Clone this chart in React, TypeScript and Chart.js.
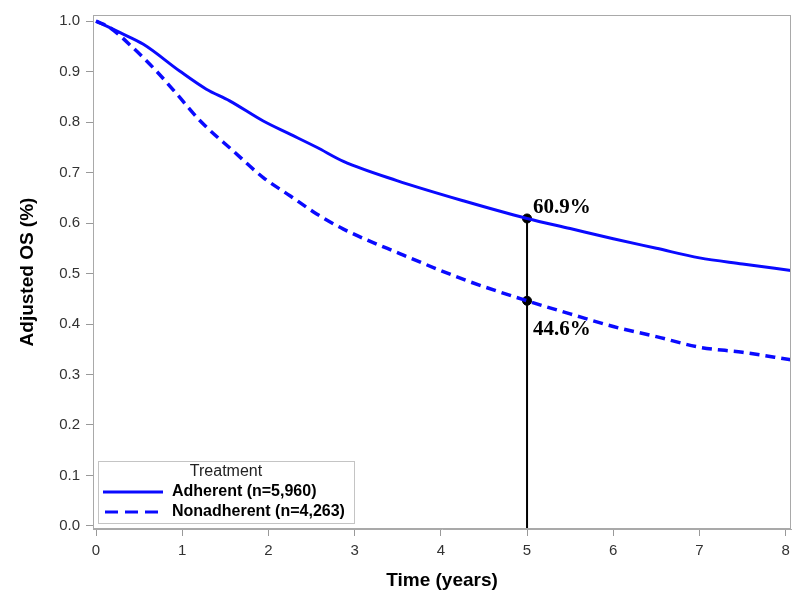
import React, { useEffect, useRef } from "react";
import { Chart, registerables } from "chart.js";

Chart.register(...registerables);

// ---- Data ----
const adherentTime = [0, 0.28, 0.55, 0.97, 1.28, 1.55, 1.94, 2.25, 2.56, 2.87, 3.49, 4.26, 5.0, 5.5, 6.0, 6.5, 7.0, 7.5, 8.06];
const adherentOS = [1.0, 0.977, 0.954, 0.901, 0.865, 0.842, 0.802, 0.776, 0.75, 0.722, 0.684, 0.644, 0.609, 0.589, 0.569, 0.55, 0.531, 0.519, 0.506];

const nonadherentTime = [0, 0.16, 0.43, 0.7, 0.94, 1.21, 1.59, 1.94, 2.25, 2.56, 2.87, 3.53, 4.3, 5.0, 5.5, 6.0, 6.5, 7.0, 7.5, 8.06];
const nonadherentOS = [1.0, 0.987, 0.947, 0.901, 0.855, 0.802, 0.743, 0.69, 0.654, 0.618, 0.588, 0.539, 0.486, 0.446, 0.42, 0.395, 0.375, 0.354, 0.344, 0.329];

const markerTime = [5, 5];
const markerOS = [0.609, 0.446];
const markerLabels = ["60.9%", "44.6%"];

const xTicks = [0, 1, 2, 3, 4, 5, 6, 7, 8];
const yTicks = [0, 0.1, 0.2, 0.3, 0.4, 0.5, 0.6, 0.7, 0.8, 0.9, 1.0];

const seriesNames = ["Adherent (n=5,960)", "Nonadherent (n=4,263)"];
const legendTitle = "Treatment";

const X_MIN = -0.035;
const X_MAX = 8.062;
const Y_MIN = -0.006;
const Y_MAX = 1.012;

const BLUE = "#0a0aff";
const SANS = "Arial, 'Liberation Sans', sans-serif";
const SERIF = "'Times New Roman', 'Liberation Serif', serif";

const overlayPlugin = {
  id: "overlay",
  afterDraw(chart: any) {
    const { ctx, chartArea, scales } = chart;
    const xs = scales.x;
    const ys = scales.y;
    ctx.save();
    // frame
    ctx.strokeStyle = "#a9a9a9";
    ctx.lineWidth = 1;
    ctx.strokeRect(chartArea.left + 0.5, chartArea.top + 0.5, chartArea.right - chartArea.left - 1, chartArea.bottom - chartArea.top - 1);

    // marker labels
    ctx.fillStyle = "#000";
    ctx.font = `bold 21px ${SERIF}`;
    ctx.textAlign = "left";
    ctx.textBaseline = "alphabetic";
    markerTime.forEach((t, i) => {
      const px = xs.getPixelForValue(t);
      const py = ys.getPixelForValue(markerOS[i]);
      if (i === 0) ctx.fillText(markerLabels[i], px + 6, py - 5);
      else ctx.fillText(markerLabels[i], px + 6, py + 34);
    });

    // legend box
    const bx = 98.5, by = 461.5, bw = 256, bh = 62;
    ctx.fillStyle = "#fff";
    ctx.fillRect(bx, by, bw, bh);
    ctx.strokeStyle = "#c4c4c4";
    ctx.lineWidth = 1;
    ctx.strokeRect(bx, by, bw, bh);
    ctx.fillStyle = "#222";
    ctx.font = `16px ${SANS}`;
    ctx.textAlign = "center";
    ctx.textBaseline = "middle";
    ctx.fillText(legendTitle, 226, 472);

    ctx.strokeStyle = BLUE;
    ctx.lineWidth = 3;
    ctx.beginPath();
    ctx.moveTo(103, 492);
    ctx.lineTo(163, 492);
    ctx.stroke();
    ctx.setLineDash([13, 7]);
    ctx.beginPath();
    ctx.moveTo(105, 512);
    ctx.lineTo(160, 512);
    ctx.stroke();
    ctx.setLineDash([]);

    ctx.fillStyle = "#000";
    ctx.font = `bold 16px ${SANS}`;
    ctx.textAlign = "left";
    ctx.fillText(seriesNames[0], 172, 492);
    ctx.fillText(seriesNames[1], 172, 512);
    ctx.restore();
  },
};

export default function App() {
  const ref = useRef<HTMLCanvasElement>(null);

  useEffect(() => {
    if (!ref.current) return;
    const chart = new Chart(ref.current, {
      type: "scatter",
      data: {
        datasets: [
          {
            label: seriesNames[0],
            data: adherentTime.map((t, i) => ({ x: t, y: adherentOS[i] })),
            showLine: true,
            borderColor: BLUE,
            borderWidth: 3,
            pointRadius: 0,
            cubicInterpolationMode: "monotone",
          },
          {
            label: seriesNames[1],
            data: nonadherentTime.map((t, i) => ({ x: t, y: nonadherentOS[i] })),
            showLine: true,
            borderColor: BLUE,
            borderWidth: 3.5,
            borderDash: [10, 6],
            pointRadius: 0,
            cubicInterpolationMode: "monotone",
          },
          {
            label: "ref",
            data: [
              { x: markerTime[0], y: markerOS[0] },
              { x: markerTime[0], y: Y_MIN },
            ],
            showLine: true,
            borderColor: "#000",
            borderWidth: 2,
            pointRadius: 0,
          },
          {
            label: "markers",
            data: markerTime.map((t, i) => ({ x: t, y: markerOS[i] })),
            showLine: false,
            pointRadius: 4.5,
            pointBackgroundColor: "#000",
            pointBorderColor: "#000",
          },
        ],
      },
      options: {
        responsive: false,
        animation: false,
        layout: { padding: { top: 14, right: 9, left: 0, bottom: 0 } },
        plugins: { legend: { display: false }, tooltip: { enabled: false } },
        scales: {
          x: {
            type: "linear",
            min: X_MIN,
            max: X_MAX,
            afterBuildTicks: (s: any) => {
              s.ticks = xTicks.map((v) => ({ value: v }));
            },
            afterFit: (s: any) => {
              s.height = 70;
            },
            grid: { display: true, drawOnChartArea: false, drawTicks: true, tickLength: 7, color: "#999" },
            border: { display: true, color: "#a9a9a9" },
            ticks: {
              font: { family: SANS, size: 15 },
              color: "#333",
              padding: 6,
              maxRotation: 0,
              callback: (v: any) => String(v),
            },
            title: {
              display: true,
              text: "Time (years)",
              font: { family: SANS, size: 19, weight: "bold" },
              color: "#000",
              padding: { top: 0, bottom: 7 },
            },
          },
          y: {
            type: "linear",
            min: Y_MIN,
            max: Y_MAX,
            afterBuildTicks: (s: any) => {
              s.ticks = yTicks.map((v) => ({ value: v }));
            },
            afterFit: (s: any) => {
              s.width = 93;
            },
            grid: { display: true, drawOnChartArea: false, drawTicks: true, tickLength: 7, color: "#999" },
            border: { display: true, color: "#a9a9a9" },
            ticks: {
              font: { family: SANS, size: 15 },
              color: "#333",
              padding: 6,
              callback: (v: any) => Number(v).toFixed(1),
            },
            title: {
              display: true,
              text: "Adjusted OS (%)",
              font: { family: SANS, size: 19, weight: "bold" },
              color: "#000",
              padding: { top: 16, bottom: 0 },
            },
          },
        },
      },
      plugins: [overlayPlugin],
    } as any);
    return () => chart.destroy();
  }, []);

  return (
    <div style={{ position: "fixed", left: 0, top: 0, width: 800, height: 599, background: "#fff" }}>
      <canvas ref={ref} width={800} height={599} style={{ width: 800, height: 599 }} />
    </div>
  );
}
